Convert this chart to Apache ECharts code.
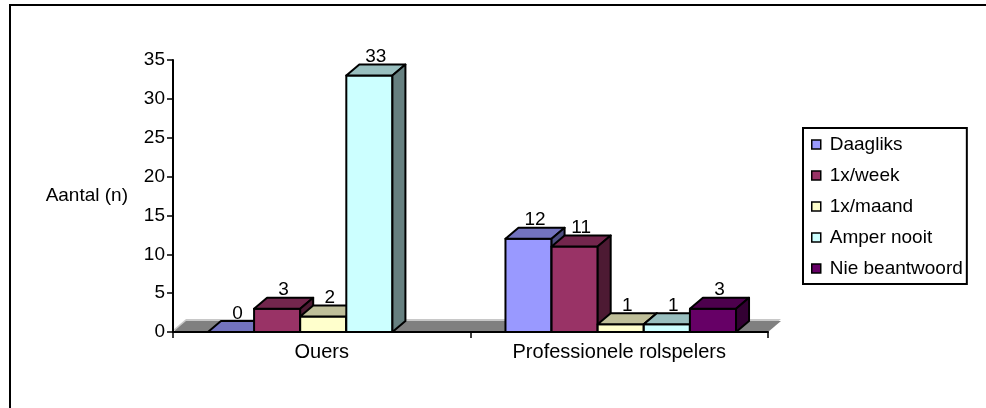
<!DOCTYPE html>
<html>
<head>
<meta charset="utf-8">
<style>
  html, body { margin: 0; padding: 0; background: #fff; }
  #chart { width: 986px; height: 408px; }
</style>
<script src="https://cdn.jsdelivr.net/npm/echarts@6/dist/echarts.min.js"></script>
</head>
<body>
<div id="chart"></div>
<script>
// ---- data ----
var categories = ['Ouers', 'Professionele rolspelers'];
var seriesNames = ['Daagliks', '1x/week', '1x/maand', 'Amper nooit', 'Nie beantwoord'];
var daagliks = [0, 12];
var week = [3, 11];
var maand = [2, 1];
var amperNooit = [33, 1];
var nieBeantwoord = [null, 3];
var yTicks = [0, 5, 10, 15, 20, 25, 30, 35];

var seriesValues = [daagliks, week, maand, amperNooit, nieBeantwoord];

// ---- styles ----
var FONT = "'Liberation Sans', Arial, Helvetica, sans-serif";
var fronts = ['#9999FF', '#993366', '#FFFFCC', '#CCFFFF', '#660066'];
var DX = 13, DY = 11;

function shade(hex, f) {
  var n = parseInt(hex.slice(1), 16);
  var r = Math.round(((n >> 16) & 255) * f);
  var g = Math.round(((n >> 8) & 255) * f);
  var b = Math.round((n & 255) * f);
  return 'rgb(' + r + ',' + g + ',' + b + ')';
}

function makeBarRender(sIdx) {
  return function (params, api) {
    var v = api.value(1);
    if (v == null || isNaN(v)) return null;
    var cat = api.value(0);
    var base = api.coord([cat, 0]);
    var topPt = api.coord([cat, v]);
    var band = api.size([1, 0])[0];
    var w = band * 0.155;
    var x0 = base[0] - 2.5 * w + sIdx * w + 1.5;
    var y0 = base[1];
    var yT = topPt[1];
    var col = fronts[sIdx];
    var stroke = { stroke: '#000', lineWidth: 2, lineJoin: 'round' };
    return {
      type: 'group',
      children: [
        {
          type: 'rect',
          shape: { x: x0, y: yT, width: w, height: y0 - yT },
          style: Object.assign({ fill: col }, stroke)
        },
        {
          type: 'polygon',
          shape: { points: [[x0, yT], [x0 + DX, yT - DY], [x0 + w + DX, yT - DY], [x0 + w, yT]] },
          style: Object.assign({ fill: shade(col, 0.75) }, stroke)
        },
        {
          type: 'polygon',
          shape: { points: [[x0 + w, yT], [x0 + w + DX, yT - DY], [x0 + w + DX, y0 - DY], [x0 + w, y0]] },
          style: Object.assign({ fill: shade(col, 0.5) }, stroke)
        },
        {
          type: 'text',
          z2: 100,
          style: {
            x: x0 + w / 2 + DX / 2,
            y: yT - DY + 2,
            text: String(v),
            fill: '#000',
            font: '19px ' + FONT,
            fontSize: 19,
            fontFamily: FONT,
            align: 'center',
            verticalAlign: 'bottom',
            textAlign: 'center',
            textVerticalAlign: 'bottom'
          }
        }
      ]
    };
  };
}

var series = [{
  type: 'custom',
  name: 'floor',
  silent: true,
  data: [[0, 0]],
  renderItem: function (params, api) {
    var cs = params.coordSys;
    var x = cs.x, y = cs.y + cs.height, w = cs.width;
    return {
      type: 'group',
      children: [
        {
          type: 'polygon',
          shape: { points: [[x, y - 2], [x + DX, y - DY - 2], [x + w + DX, y - DY - 2], [x + w, y - 2]] },
          style: { fill: '#C8C8C8' }
        },
        {
          type: 'polygon',
          shape: { points: [[x, y], [x + DX, y - DY], [x + w + DX, y - DY], [x + w, y]] },
          style: { fill: '#808080' }
        }
      ]
    };
  }
}];

seriesNames.forEach(function (name, i) {
  series.push({
    type: 'custom',
    name: name,
    itemStyle: { color: fronts[i] },
    data: seriesValues[i].map(function (v, c) { return [c, v]; }),
    encode: { x: 0, y: 1 },
    renderItem: makeBarRender(i)
  });
});

var chart = echarts.init(document.getElementById('chart'), null, { renderer: 'canvas' });
chart.setOption({
  animation: false,
  backgroundColor: '#fff',
  textStyle: { fontFamily: FONT, color: '#000' },
  graphic: [{
    type: 'rect',
    shape: { x: 10, y: 5, width: 1000, height: 500 },
    style: { fill: 'none', stroke: '#000', lineWidth: 2 },
    silent: true
  }],
  grid: { left: 173, right: 218, top: 60, bottom: 76, containLabel: false },
  legend: {
    orient: 'vertical',
    left: 803,
    top: 128,
    data: seriesNames,
    icon: 'rect',
    itemWidth: 9,
    itemHeight: 9,
    itemGap: 12,
    padding: [7, 4, 6, 8],
    borderColor: '#000',
    borderWidth: 2,
    itemStyle: { borderColor: '#000', borderWidth: 1.5 },
    textStyle: { fontSize: 19, fontFamily: FONT, color: '#000', padding: [0, 0, 0, 4] }
  },
  xAxis: {
    type: 'category',
    data: categories,
    boundaryGap: true,
    z: 10,
    axisLine: { lineStyle: { color: '#000', width: 2 } },
    axisTick: { show: true, length: 6, lineStyle: { color: '#000', width: 1.5 } },
    axisLabel: { fontSize: 20, fontFamily: FONT, color: '#000', margin: 10 },
    splitLine: { show: false }
  },
  yAxis: {
    type: 'value',
    min: yTicks[0],
    max: yTicks[yTicks.length - 1],
    interval: yTicks[1] - yTicks[0],
    z: 10,
    name: 'Aantal (n)',
    nameLocation: 'middle',
    nameRotate: 0,
    nameGap: 45,
    nameTextStyle: { fontSize: 19, fontFamily: FONT, color: '#000', align: 'right', verticalAlign: 'middle' },
    axisLine: { show: true, lineStyle: { color: '#000', width: 2 } },
    axisTick: { show: true, length: 6, lineStyle: { color: '#000', width: 1.5 } },
    axisLabel: { fontSize: 19, fontFamily: FONT, color: '#000', margin: 8 },
    splitLine: { show: false }
  },
  series: series
});
</script>
</body>
</html>
